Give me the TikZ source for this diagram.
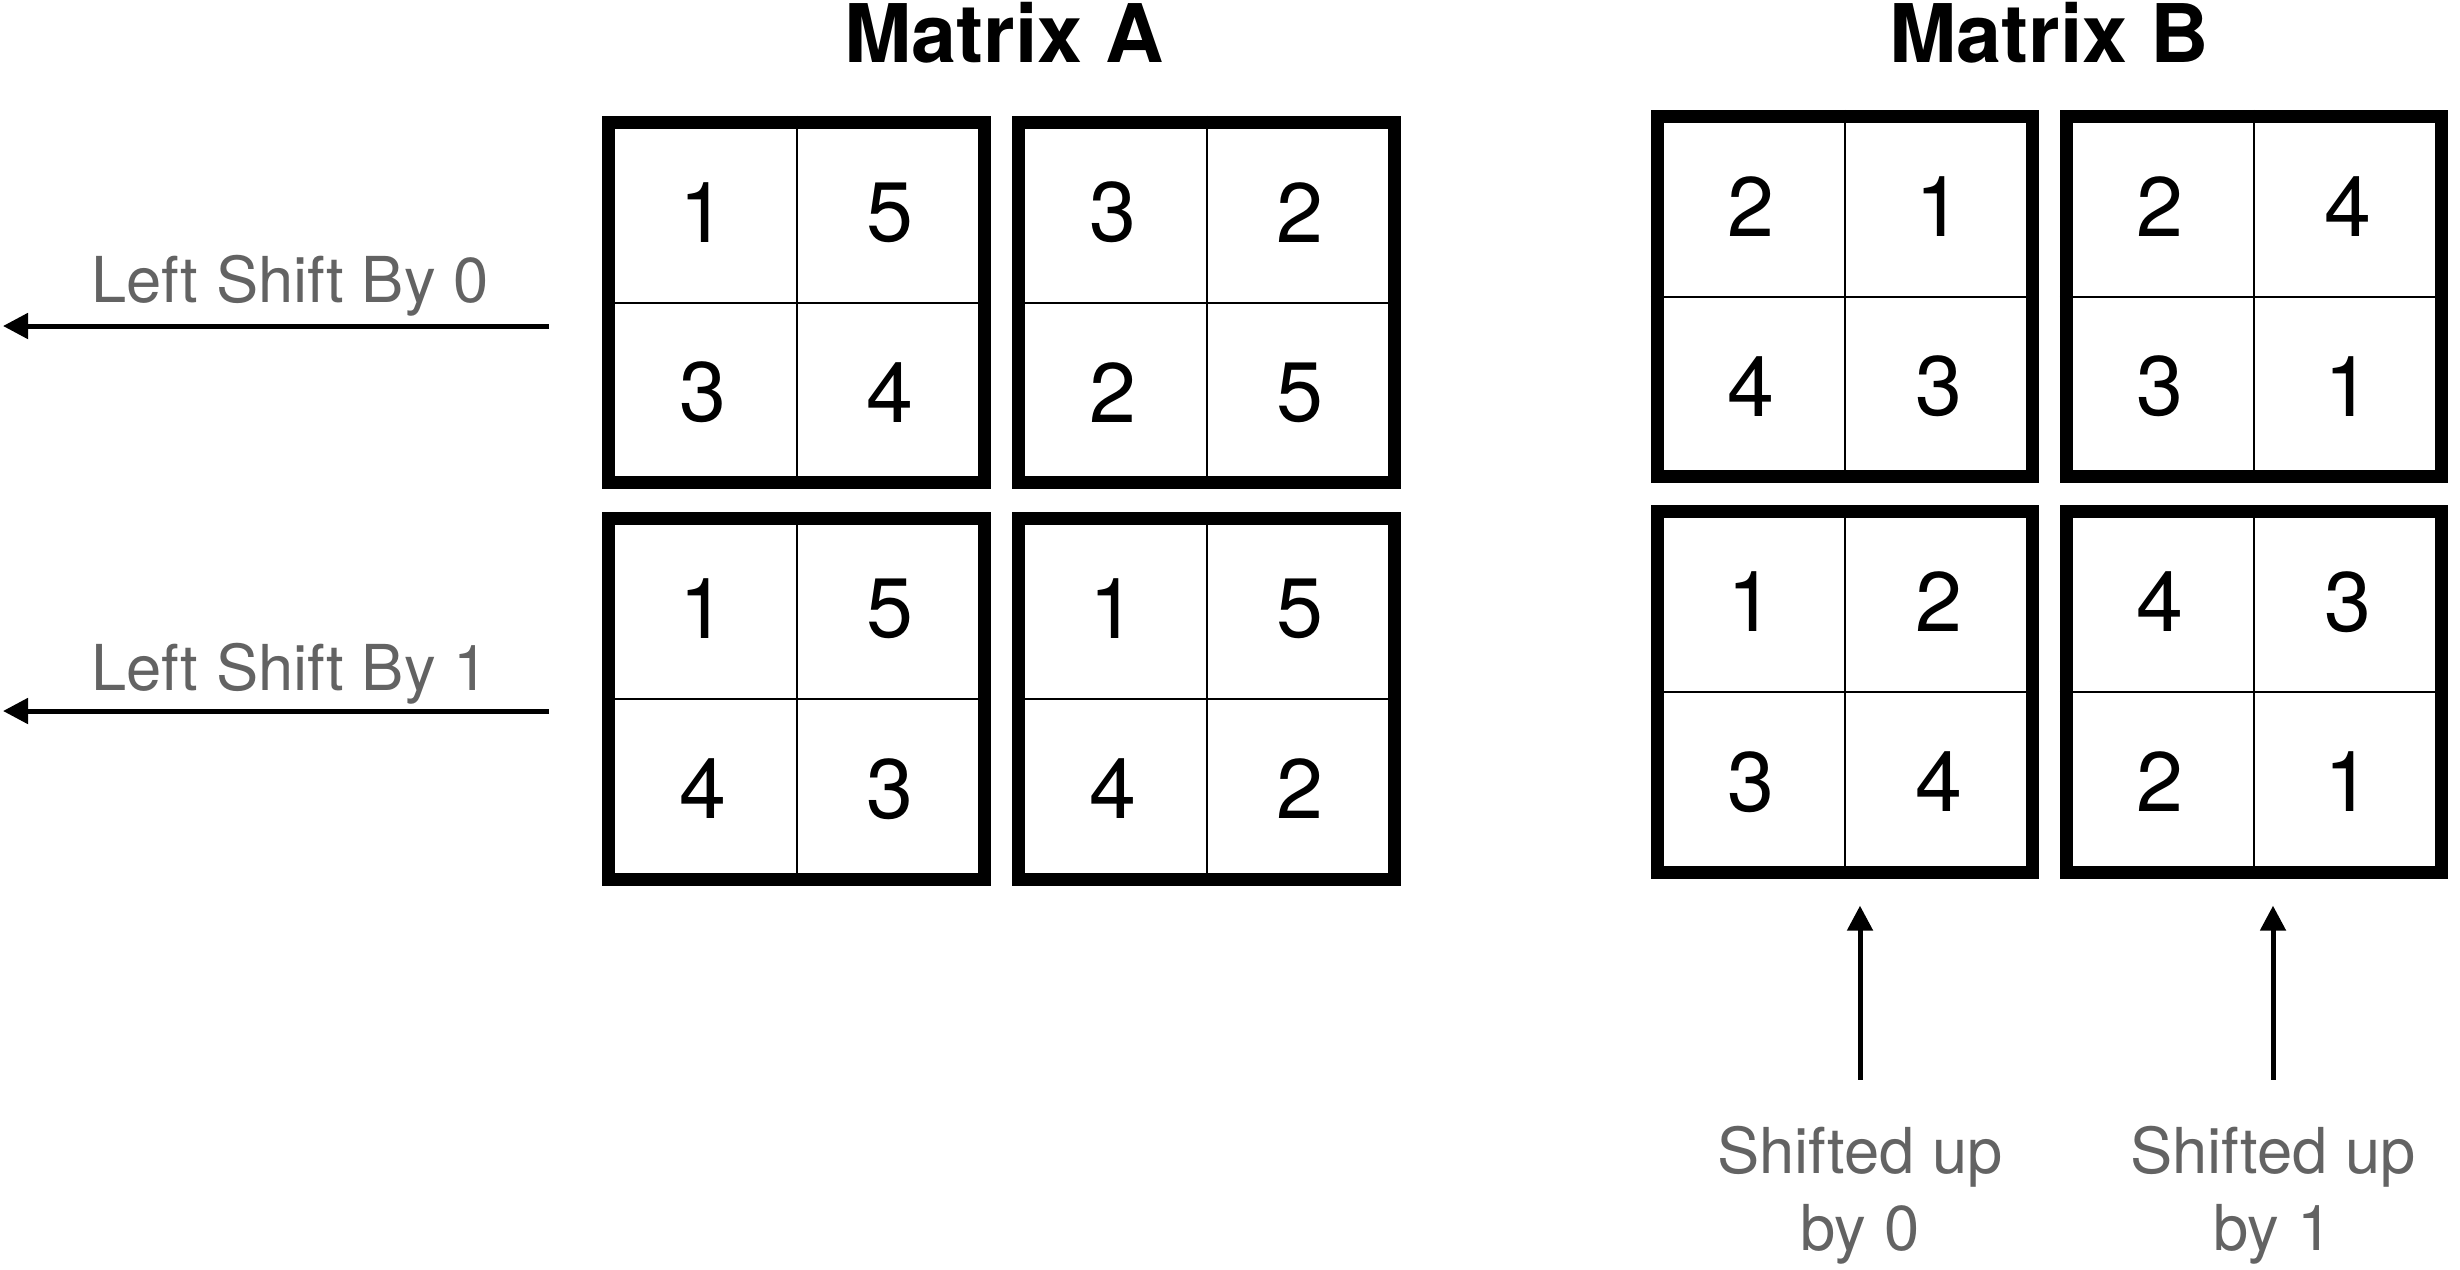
\documentclass[tikz,border=0pt]{standalone}
\usepackage{fontspec}
\setmainfont{TeX Gyre Heros}
\usetikzlibrary{calc,arrows.meta}

\definecolor{labelgray}{RGB}{99,99,99}

\tikzset{
  blockbox/.style={draw=black, line width=0.13cm, minimum width=3.75cm,
    minimum height=3.6cm, inner sep=0pt, fill=white},
  cellrule/.style={draw=black, line width=0.02cm},
  digit/.style={inner sep=0pt, font=\fontsize{24}{28}\selectfont},
  headline/.style={inner sep=0pt, anchor=base, font=\fontsize{23}{27}\selectfont\bfseries},
  shiftlabel/.style={inner sep=0pt, text=labelgray, font=\fontsize{18}{22}\selectfont},
  shiftarrow/.style={line width=0.05cm, -{Triangle[length=0.25cm,width=0.25cm]}},
}

% one 2x2 block: name, centre x, centre y, four entries row by row
\newcommand\gridblock[7]{%
  \node[blockbox] (#1) at (#2,#3) {};
  \draw[cellrule] (#1.north) -- (#1.south) (#1.west) -- (#1.east);
  \node[digit] (#1-a) at ($(#1.center)+(-93.75,-90)$) {#4};
  \node[digit] (#1-b) at ($(#1.center)+(93.75,-90)$) {#5};
  \node[digit] (#1-c) at ($(#1.center)+(-93.75,90)$) {#6};
  \node[digit] (#1-d) at ($(#1.center)+(93.75,90)$) {#7};
}

\begin{document}
\begin{tikzpicture}[x=0.01cm, y=-0.01cm]
\useasboundingbox (0,0) rectangle (2460,1269);

% titles
\node[headline] (titleA) at (1004,62) {Matrix A};
\node[headline] (titleB) at (2049,62) {Matrix B};

% matrix A blocks
\gridblock{A11}{796.5}{302.5}{1}{5}{3}{4}
\gridblock{A12}{1206.5}{302.5}{3}{2}{2}{5}
\gridblock{A21}{796.5}{699}{1}{5}{4}{3}
\gridblock{A22}{1206.5}{699}{1}{5}{4}{2}

% matrix B blocks
\gridblock{B11}{1845}{296.5}{2}{1}{4}{3}
\gridblock{B12}{2254}{296.5}{2}{4}{3}{1}
\gridblock{B21}{1845}{692}{1}{2}{3}{4}
\gridblock{B22}{2254}{692}{4}{3}{2}{1}

% row shifts of A
\node[shiftlabel, anchor=base] (ls0) at (290,302) {Left Shift By 0};
\node[shiftlabel, anchor=base] (ls1) at (290,690) {Left Shift By 1};
\coordinate (ls0r) at (549,326);
\coordinate (ls0l) at (3,326);
\coordinate (ls1r) at (549,711);
\coordinate (ls1l) at (3,711);
\draw[shiftarrow] (ls0r) -- (ls0l);
\draw[shiftarrow] (ls1r) -- (ls1l);

% column shifts of B
\node[shiftlabel, anchor=north, align=center] (su0) at (1860,1125) {Shifted up\\by 0};
\node[shiftlabel, anchor=north, align=center] (su1) at (2273,1125) {Shifted up\\by 1};
\draw[shiftarrow, shorten <=0.45cm, shorten >=0.27cm] (su0.north) -- (su0.north |- B21.south);
\draw[shiftarrow, shorten <=0.45cm, shorten >=0.27cm] (su1.north) -- (su1.north |- B22.south);
\end{tikzpicture}
\end{document}
